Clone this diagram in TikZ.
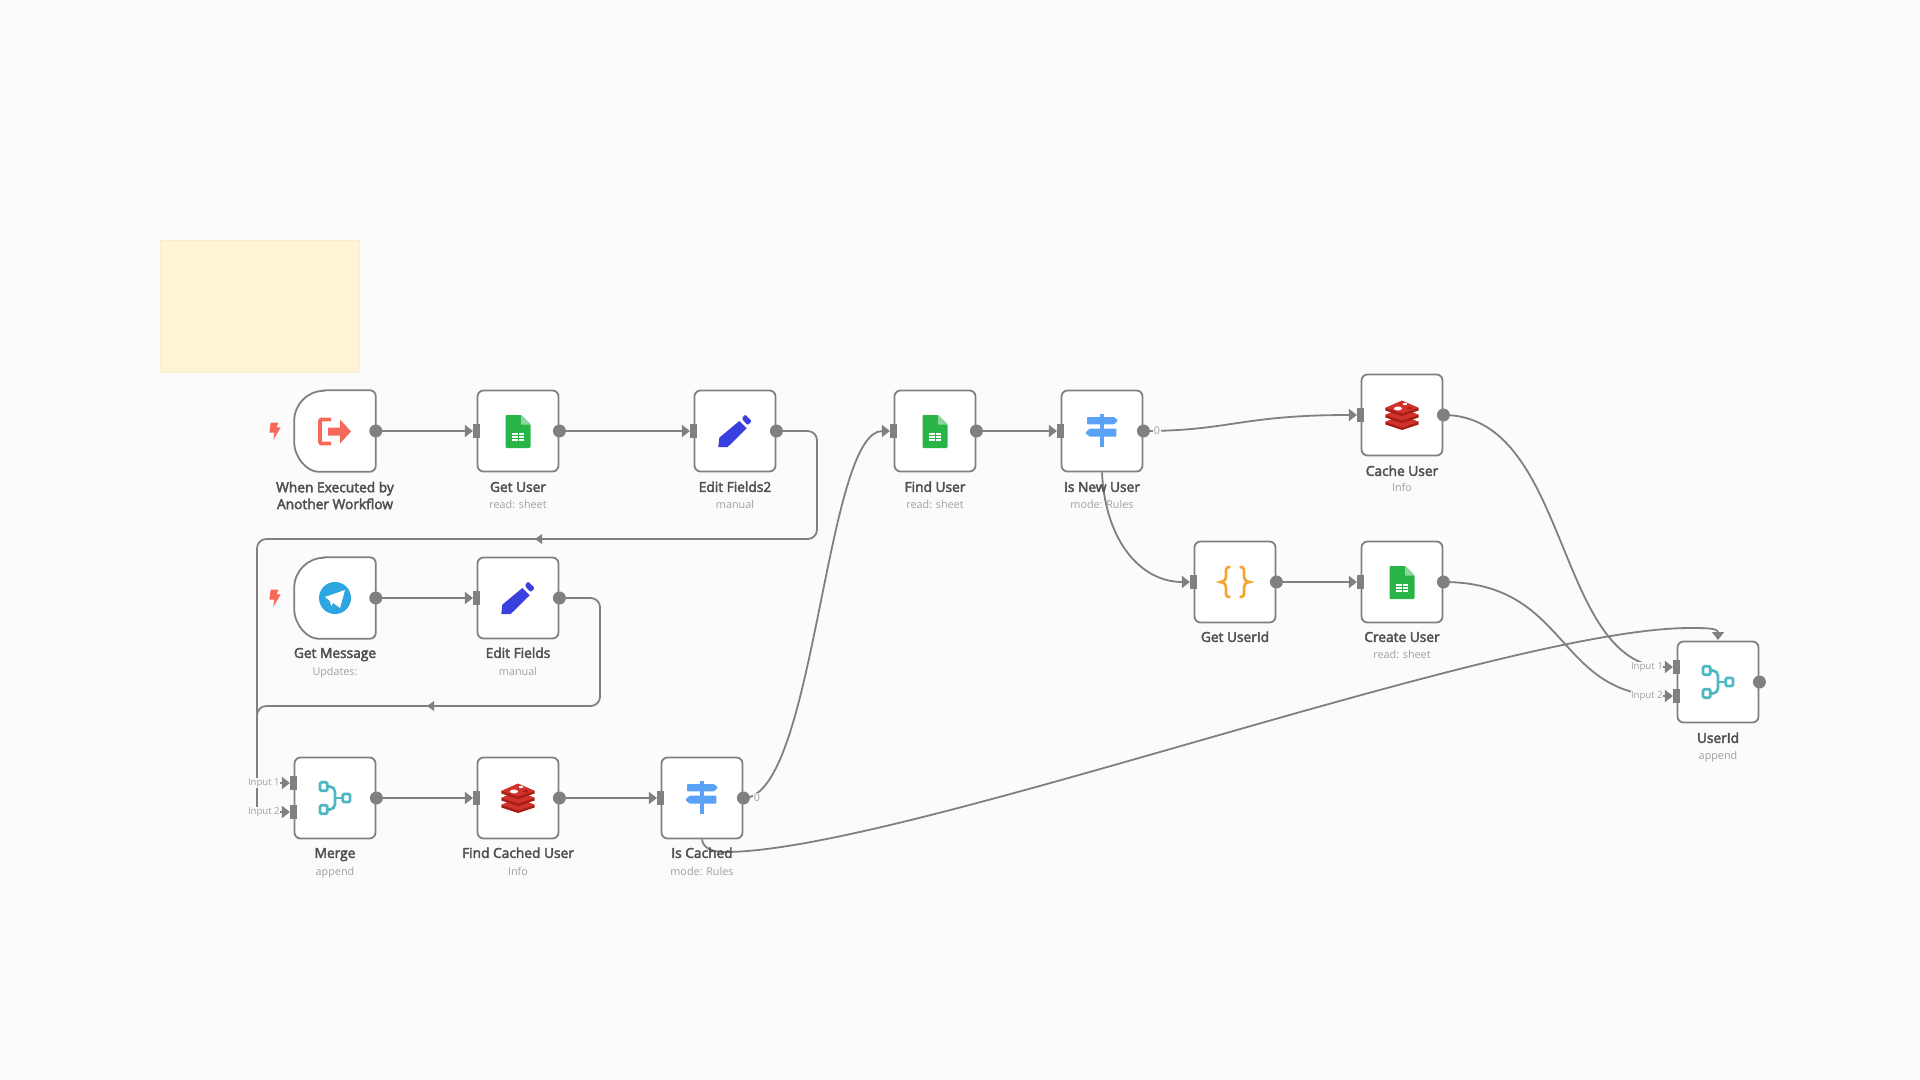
\documentclass[tikz,border=0pt]{standalone}
\usepackage{fontspec}
\setmainfont{Open Sans}
\newfontfamily\titlefont[FakeBold=3]{Open Sans}
\usetikzlibrary{arrows.meta}
\definecolor{canvas}{HTML}{FBFBFB}
\definecolor{linegray}{HTML}{808080}
\definecolor{titlegray}{HTML}{505050}
\definecolor{subgray}{HTML}{A0A0A0}
\definecolor{stickyfill}{HTML}{FFF5D6}
\definecolor{stickyline}{HTML}{F9EDCB}
\definecolor{sheetgreen}{HTML}{28B446}
\definecolor{sheetfold}{HTML}{8FD3A0}
\definecolor{pencilblue}{HTML}{3A40E0}
\definecolor{signblue}{HTML}{5AA2F5}
\definecolor{redislight}{HTML}{D1322B}
\definecolor{redisdark}{HTML}{A41E14}
\definecolor{mergeteal}{HTML}{4DB8C4}
\definecolor{braceorange}{HTML}{F5A52E}
\definecolor{boltred}{HTML}{F4695A}
\definecolor{teleblue}{HTML}{2CA5E0}

\tikzset{
  nodebox/.style={draw=linegray,line width=1.35pt,fill=white,rounded corners=4.5pt,minimum size=60.75pt,inner sep=0pt},
  trigbox/.style={minimum size=60.75pt,inner sep=0pt},
  outport/.style={circle,fill=linegray,minimum size=9.75pt,inner sep=0pt},
  inport/.style={rectangle,fill=linegray,minimum width=5pt,minimum height=10pt,inner sep=0pt},
  link/.style={draw=linegray,line width=1.35pt,-{Triangle[length=6pt,width=9pt]}},
  title/.style={inner sep=0pt,align=center,text=titlegray,text height=7.35pt,text depth=0pt,font=\titlefont\fontsize{10.3}{12.6}\selectfont},
  subtitle/.style={inner sep=0pt,text=subgray,text height=5.8pt,text depth=0pt,font=\fontsize{8.1}{9}\selectfont},
  inputlabel/.style={inner sep=0pt,anchor=east,fill=canvas,text=subgray,font=\fontsize{7.2}{8}\selectfont},
  flipicon/.style={yscale=-1},
  sheetsicon/.pic={
    \fill[sheetgreen,rounded corners=0.8pt] (-12.5,-16.5) -- (3,-16.5) -- (12.5,-7) -- (12.5,16.5) -- (-12.5,16.5) -- cycle;
    \fill[sheetfold] (3,-16.5) -- (12.5,-7) -- (3,-7) -- cycle;
    \fill[white] (-6,1) rectangle (6,9.5);
    \draw[sheetgreen,line width=0.6pt] (-6,3.8) -- (6,3.8) (-6,6.6) -- (6,6.6) (0,1) -- (0,9.5);
  },
  pencilicon/.pic={
    \fill[pencilblue] (-15.7,6.7) -- (4.3,-10) -- (11.7,-2.7) -- (-7.3,16) -- (-16.7,16) -- cycle;
    \fill[pencilblue,rounded corners=1pt] (6.7,-12.3) -- (10,-16.7) -- (16.7,-10) -- (12.7,-5.7) -- cycle;
  },
  signicon/.pic={
    \fill[signblue] (-1.7,-16.7) rectangle (1.7,16);
    \fill[signblue,rounded corners=0.6pt] (-15,-14) -- (12,-14) -- (16,-10.4) -- (12,-6.7) -- (-15,-6.7) -- cycle;
    \fill[signblue,rounded corners=0.6pt] (14.3,-2.3) -- (-12.5,-2.3) -- (-16.7,1.7) -- (-12.5,5.7) -- (14.3,5.7) -- cycle;
  },
  redisicon/.pic={
    \foreach \yy in {7,0,-7}{
      \fill[redisdark] (-16.7,\yy) -- (0,\yy-7) -- (16.7,\yy) -- (16.7,\yy+2.5) -- (0,\yy+8) -- (-16.7,\yy+2.5) -- cycle;
      \fill[redislight] (-16.7,\yy) -- (0,\yy-7.5) -- (16.7,\yy) -- (0,\yy+5.5) -- cycle;
    }
    \fill[white] (-4,-6.5) ellipse (4 and 2);
    \fill[white] (3,-11) ellipse (2.2 and 1.2);
    \fill[redisdark] (4,-6.5) -- (9,-8.5) -- (10,-5.5) -- cycle;
  },
  mergeicon/.pic={
    \draw[mergeteal,line width=2pt,rounded corners=1pt] (-15,-15.7) rectangle (-7.7,-7.3);
    \draw[mergeteal,line width=2pt,rounded corners=1pt] (-15,7.3) rectangle (-7.7,15.7);
    \draw[mergeteal,line width=2pt,rounded corners=1pt] (7.7,-4) rectangle (15,4);
    \draw[mergeteal,line width=2pt,rounded corners=4pt] (-7.7,-11.5) -- (0,-11.5) -- (0,11.5) -- (-7.7,11.5);
    \draw[mergeteal,line width=2pt] (0,0) -- (7.7,0);
  },
  bracesicon/.pic={
    \draw[braceorange,line width=2pt,line cap=round] (-5.5,-15) .. controls (-10,-15) and (-9,-11) .. (-9,-7) .. controls (-9,-3) and (-10,-0.5) .. (-14.5,0) .. controls (-10,0.5) and (-9,3) .. (-9,7) .. controls (-9,11) and (-10,15) .. (-5.5,15);
    \draw[braceorange,line width=2pt,line cap=round] (5.5,-15) .. controls (10,-15) and (9,-11) .. (9,-7) .. controls (9,-3) and (10,-0.5) .. (14.5,0) .. controls (10,0.5) and (9,3) .. (9,7) .. controls (9,11) and (10,15) .. (5.5,15);
  },
  bolticon/.pic={
    \fill[boltred] (-4.3,-8.3) -- (3.3,-8.3) -- (1.7,-3.7) -- (5.7,-3.7) -- (-1.7,9) -- (-0.7,1.7) -- (-5.7,1.7) -- cycle;
  },
}
\newcommand{\trigoutline}[1]{
  \filldraw[fill=white,draw=linegray,line width=1.35pt] ([xshift=22.5pt]#1.north west) [rounded corners=4.5pt] -- (#1.north east) -- (#1.south east) -- ([xshift=22.5pt]#1.south west) [sharp corners] arc[start angle=90,end angle=180,radius=30] -- ++(0,-21) arc[start angle=180,end angle=270,radius=30] -- cycle;
}

\begin{document}
\begin{tikzpicture}[x=0.75pt,y=0.75pt,yscale=-1,xscale=1]
\fill[canvas] (0,0) rectangle (1920,1080);
\filldraw[fill=stickyfill,draw=stickyline,line width=0.75pt] (160.5,240.5) rectangle (359.5,373);

% Boxes
\node[trigbox] (trigger) at (335,431) {};
\trigoutline{trigger}
\node[nodebox] (getuser) at (518,431) {};
\node[nodebox] (editfieldstwo) at (735,431) {};
\node[nodebox] (finduser) at (935,431) {};
\node[nodebox] (isnewuser) at (1102,431) {};
\node[nodebox] (cacheuser) at (1402,415) {};
\node[nodebox] (getuserid) at (1235,582) {};
\node[nodebox] (createuser) at (1402,582) {};
\node[trigbox] (getmessage) at (335,598) {};
\trigoutline{getmessage}
\node[nodebox] (editfields) at (518,598) {};
\node[nodebox] (merge) at (335,798) {};
\node[nodebox] (findcached) at (518,798) {};
\node[nodebox] (iscached) at (702,798) {};
\node[nodebox] (userid) at (1718,682) {};

% Input ports
\node[inport] (getuserin) at (476.5,431) {};
\node[inport] (editfieldstwoin) at (693.5,431) {};
\node[inport] (finduserin) at (893.5,431) {};
\node[inport] (isnewuserin) at (1060.5,431) {};
\node[inport] (cacheuserin) at (1360.5,415) {};
\node[inport] (getuseridin) at (1193.5,582) {};
\node[inport] (createuserin) at (1360.5,582) {};
\node[inport] (editfieldsin) at (476.5,598) {};
\node[inport] (findcachedin) at (476.5,798) {};
\node[inport] (iscachedin) at (660.5,798) {};
\node[inport] (mergeina) at (293.5,783) {};
\node[inport] (mergeinb) at (293.5,812) {};
\node[inport] (useridina) at (1676.5,667) {};
\node[inport] (useridinb) at (1676.5,696) {};
\coordinate (useridtop) at (1718,640);

% Icons
\path (275,431) pic[flipicon] {bolticon};
\path (275,598) pic[flipicon] {bolticon};
\draw[boltred,line width=2.8pt] (331,419.5) -- (321,419.5) -- (320,421) -- (320,442) -- (321,443.5) -- (331,443.5);
\fill[boltred] (328,427.5) -- (340,427.5) -- (340,419.5) -- (351,431.5) -- (340,443.5) -- (340,435.5) -- (328,435.5) -- cycle;
\fill[teleblue] (335,598) circle (16);
\fill[white] (325,597) -- (345,590) -- (340,608) -- (333.3,603) -- (331,606) -- (330,601) -- cycle;
\path (518,431.5) pic[flipicon] {sheetsicon};
\path (735,431) pic[flipicon] {pencilicon};
\path (935,431.5) pic[flipicon] {sheetsicon};
\path (1102,431) pic[flipicon] {signicon};
\path (1402,415) pic[flipicon] {redisicon};
\path (1235,582) pic[flipicon] {bracesicon};
\path (1402,582.5) pic[flipicon] {sheetsicon};
\path (518,598) pic[flipicon] {pencilicon};
\path (335,798) pic[flipicon] {mergeicon};
\path (518,798) pic[flipicon] {redisicon};
\path (702,798) pic[flipicon] {signicon};
\path (1718,682) pic[flipicon] {mergeicon};

% Connectors
\draw[link] (trigger.east) -- (getuserin.west);
\draw[link] (getuser.east) -- (editfieldstwoin.west);
\draw[link,rounded corners=7pt] (editfieldstwo.east) -- (817,431) -- (817,539) -- (257,539) -- (257,775) .. controls (257,781) and (270,783) .. (mergeina.west);
\fill[linegray] (535,539) -- (542,534) -- (542,544) -- cycle;
\draw[link] (getmessage.east) -- (editfieldsin.west);
\draw[link,rounded corners=7pt] (editfields.east) -- (600,598) -- (600,706) -- (257,706) -- (257,802) .. controls (257,809) and (270,812) .. (mergeinb.west);
\fill[linegray] (427,706) -- (434,701) -- (434,711) -- cycle;
\draw[link] (merge.east) -- (findcachedin.west);
\draw[link] (findcached.east) -- (iscachedin.west);
\draw[link] (iscached.east) .. controls (815,798) and (825,431) .. (finduserin.west);
\draw[link] (iscached.south) .. controls (703,848) and (712,852) .. (725,852) .. controls (900,852) and (1500,628) .. (1690,628) .. controls (1705,628) and (1718,628) .. (useridtop);
\draw[link] (finduser.east) -- (isnewuserin.west);
\draw[link] (isnewuser.east) .. controls (1230,431) and (1240,415) .. (cacheuserin.west);
\draw[link] (isnewuser.south) .. controls (1105,540) and (1140,582) .. (getuseridin.west);
\draw[link] (getuserid.east) -- (createuserin.west);
\draw[link] (cacheuser.east) .. controls (1570,415) and (1555,667) .. (useridina.west);
\draw[link] (createuser.east) .. controls (1570,582) and (1555,696) .. (useridinb.west);

% Output ports
\node[outport] (triggerout) at (trigger.east) {};
\node[outport] (getuserout) at (getuser.east) {};
\node[outport] (editfieldstwoout) at (editfieldstwo.east) {};
\node[outport] (finduserout) at (finduser.east) {};
\node[outport] (isnewuserout) at (isnewuser.east) {};
\node[outport] (cacheuserout) at (cacheuser.east) {};
\node[outport] (getuseridout) at (getuserid.east) {};
\node[outport] (createuserout) at (createuser.east) {};
\node[outport] (getmessageout) at (getmessage.east) {};
\node[outport] (editfieldsout) at (editfields.east) {};
\node[outport] (mergeout) at (merge.east) {};
\node[outport] (findcachedout) at (findcached.east) {};
\node[outport] (iscachedout) at (iscached.east) {};
\node[outport] (useridout) at (userid.east) {};

% Text Node
\node[title,text height=,text depth=] (triggertitle) at (335,495.5) {When Executed by\\Another Workflow};
\node[title] (getusertitle) at (518,487) {Get User};
\node[subtitle] (getusersub) at (518,505) {read: sheet};
\node[title] (editfieldstwotitle) at (735,487) {Edit Fields2};
\node[subtitle] (editfieldstwosub) at (735,505) {manual};
\node[title] (findusertitle) at (935,487) {Find User};
\node[subtitle] (findusersub) at (935,505) {read: sheet};
\node[title] (isnewusertitle) at (1102,487) {Is New User};
\node[subtitle] (isnewusersub) at (1102,505) {mode: Rules};
\node[title] (cacheusertitle) at (1402,471) {Cache User};
\node[subtitle] (cacheusersub) at (1402,488) {Info};
\node[title] (getuseridtitle) at (1235,637) {Get UserId};
\node[title] (createusertitle) at (1402,637) {Create User};
\node[subtitle] (createusersub) at (1402,655) {read: sheet};
\node[title] (getmessagetitle) at (335,653) {Get Message};
\node[subtitle] (getmessagesub) at (335,672) {Updates:};
\node[title] (editfieldstitle) at (518,653) {Edit Fields};
\node[subtitle] (editfieldssub) at (518,672) {manual};
\node[title] (mergetitle) at (335,853) {Merge};
\node[subtitle] (mergesub) at (335,872) {append};
\node[title] (findcachedtitle) at (518,853) {Find Cached User};
\node[subtitle] (findcachedsub) at (518,872) {Info};
\node[title] (iscachedtitle) at (702,853) {Is Cached};
\node[subtitle] (iscachedsub) at (702,872) {mode: Rules};
\node[title] (useridtitle) at (1718,738) {UserId};
\node[subtitle] (useridsub) at (1718,756) {append};
\node[inputlabel] (mergelabela) at (280,783) {Input 1};
\node[inputlabel] (mergelabelb) at (280,812) {Input 2};
\node[inputlabel] (useridlabela) at (1663,667) {Input 1};
\node[inputlabel] (useridlabelb) at (1663,696) {Input 2};
\node[subtitle,anchor=west,fill=canvas,inner sep=0.5pt] (iscachedzero) at (753,798) {0};
\node[subtitle,anchor=west,fill=canvas,inner sep=0.5pt] (isnewuserzero) at (1153,431) {0};
\end{tikzpicture}
\end{document}
